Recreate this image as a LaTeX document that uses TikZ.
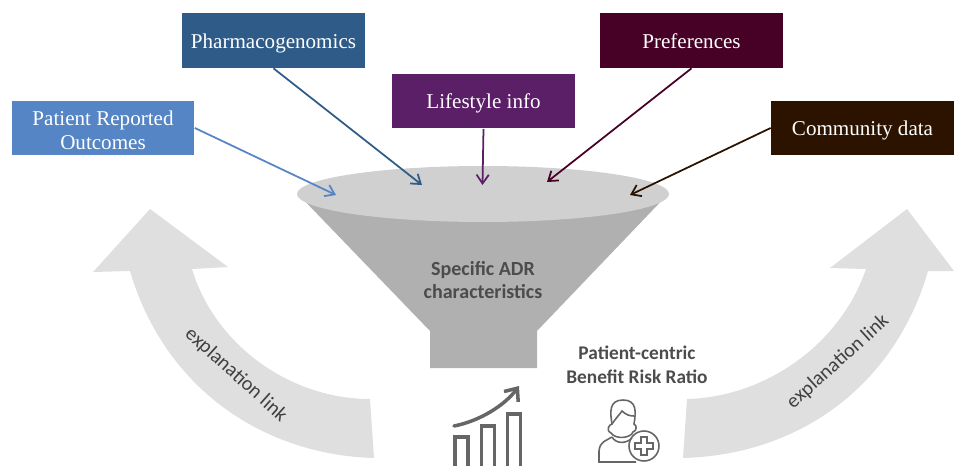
\documentclass[tikz,border=0pt]{standalone}
\usepackage{fontspec}
\setmainfont{Liberation Serif}
\newfontfamily\labelfont{Carlito}
\usetikzlibrary{arrows.meta}
\definecolor{patientblue}{HTML}{5585C5}
\definecolor{pharmablue}{HTML}{2F5B88}
\definecolor{lifepurple}{HTML}{5A1F66}
\definecolor{prefwine}{HTML}{470026}
\definecolor{commbrown}{HTML}{2B1300}
\definecolor{sweepgray}{HTML}{DFDFDF}
\definecolor{rimgray}{HTML}{D0D0D0}
\definecolor{conegray}{HTML}{B0B0B0}
\definecolor{icongray}{HTML}{666666}
\tikzset{
  sourcebox/.style={minimum width=3.66cm, minimum height=1.1cm, inner sep=0pt, text=white, align=center, font=\fontsize{12}{13.6}\selectfont,
    execute at begin node={\rule{0pt}{12pt}}, execute at end node={\rule[-3pt]{0pt}{3pt}}},
  feed/.style={-{Straight Barb[length=5pt,width=7pt]}, line width=1pt},
  boldlabel/.style={align=center, font=\labelfont\bfseries\fontsize{#1}{13.6}\selectfont, text=black!70},
  linklabel/.style={font=\labelfont\fontsize{11.5}{14}\selectfont, text=black!75},
  iconline/.style={draw=icongray, line width=#1}
}
\begin{document}
\begin{tikzpicture}[x=0.02cm, y=-0.02cm]
\useasboundingbox (0,0) rectangle (954,466);
\fill[sweepgray] (150,209) -- (228,267) -- (192,269) .. controls (215,345) and (290,399) .. (370,399) -- (374,458) .. controls (265,455) and (165,390) .. (130,271) -- (93,272) -- cycle;
\fill[sweepgray] (907,209) -- (954,271) -- (928,271) .. controls (895,385) and (800,455) .. (683,458) -- (687,399) .. controls (765,397) and (840,345) .. (866,269) -- (830,268) -- cycle;
\node[linklabel, rotate=-42] (leftlink) at (236,375) {explanation link};
\node[linklabel, rotate=42] (rightlink) at (838,362) {explanation link};
\fill[conegray] (297,193) -- (430,331) -- (430,368) -- (537,368) -- (537,331) -- (669,193) -- cycle;
\fill[rimgray] (483,194) ellipse [x radius=3.72cm, y radius=0.56cm];
\node[boldlabel=11.4] (adr) at (483,280) {Specific ADR\\characteristics};
\node[boldlabel=11] (ratio) at (637,365) {Patient-centric\\Benefit Risk Ratio};
\node[sourcebox, fill=patientblue] (patient) at (103,128) {\rule{0pt}{14pt}Patient Reported\\Outcomes};
\node[sourcebox, fill=pharmablue] (pharma) at (273.5,40.5) {Pharmacogenomics};
\node[sourcebox, fill=lifepurple] (lifestyle) at (483.5,101) {Lifestyle info};
\node[sourcebox, fill=prefwine] (prefs) at (691.5,40.5) {Preferences};
\node[sourcebox, fill=commbrown] (community) at (862.5,128) {Community data};
\coordinate (patientend) at (336,195);
\coordinate (pharmaend) at (422,185);
\coordinate (lifestyleend) at (482.5,185);
\coordinate (prefsend) at (547,182);
\coordinate (communityend) at (630,195);
\draw[feed, patientblue] (patient.east) -- (patientend);
\draw[feed, pharmablue] (pharma.south) -- (pharmaend);
\draw[feed, lifepurple] (lifestyle.south) -- (lifestyleend);
\draw[feed, prefwine] (prefs.south) -- (prefsend);
\draw[feed, commbrown] (community.west) -- (communityend);
\foreach \x/\y in {455/437, 481.5/426, 507.5/414} {
\draw[iconline=2pt] (\x,466) -- (\x,\y) -- (\x+13,\y) -- (\x+13,466);
}
\draw[iconline=2pt, line cap=round, -{Straight Barb[length=6pt,width=10pt]}] (454,426) .. controls (480,421) and (505,405) .. (519,386);
\draw[iconline=0.9pt] (611,433) .. controls (605,430) and (610,424) .. (612,424) .. controls (610,412) and (609,400) .. (623,400) .. controls (637,400) and (636,412) .. (634,424) .. controls (637,425) and (637,431) .. (633,432) .. controls (631,438) and (616,440) .. (611,433);
\draw[iconline=0.9pt] (612,424) .. controls (616,418) and (620,414) .. (622,411) .. controls (626,415) and (630,416) .. (634,416);
\draw[iconline=0.9pt] (612,437) .. controls (606,441) and (600,441) .. (599,451) -- (599,462) -- (636,462);
\draw[iconline=0.9pt] (612,437) .. controls (616,444) and (626,444) .. (632,438);
\draw[iconline=0.9pt] (644,446) circle [radius=0.3cm];
\draw[iconline=0.9pt] (641,437) -- (647,437) -- (647,443) -- (653,443) -- (653,449) -- (647,449) -- (647,455) -- (641,455) -- (641,449) -- (635,449) -- (635,443) -- (641,443) -- cycle;
\end{tikzpicture}
\end{document}
